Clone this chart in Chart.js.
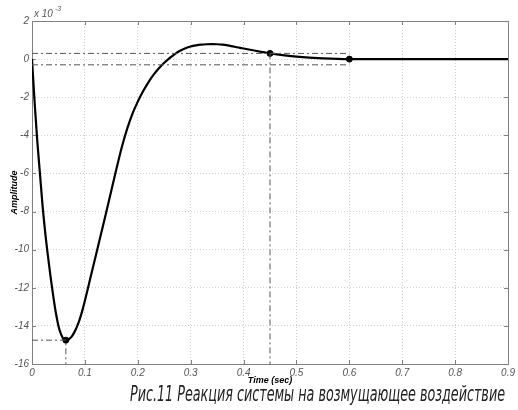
<!DOCTYPE html>
<html>
<head>
<meta charset="utf-8">
<script src="https://cdn.jsdelivr.net/npm/chart.js@4.4.0/dist/chart.umd.min.js"></script>
<style>
  html, body { margin: 0; padding: 0; background: #fff; }
  #wrap { position: relative; width: 518px; height: 410px; }
</style>
</head>
<body>
<div id="wrap"><canvas id="myChart" width="518" height="410"></canvas></div>
<script>
// step response data (amplitude in units of 1e-3)
var times = [0, 0.005, 0.01, 0.015, 0.02, 0.025, 0.03, 0.035, 0.04, 0.045, 0.05, 0.055, 0.06, 0.064,
  0.07, 0.075, 0.08, 0.085, 0.09, 0.095, 0.1, 0.11, 0.12, 0.13, 0.14, 0.15, 0.16, 0.17, 0.18, 0.19,
  0.2, 0.21, 0.22, 0.23, 0.24, 0.25, 0.26, 0.27, 0.28, 0.29, 0.3, 0.31, 0.32, 0.33, 0.34, 0.35, 0.36,
  0.37, 0.38, 0.39, 0.4, 0.42, 0.44, 0.45, 0.47, 0.5, 0.55, 0.6, 0.7, 0.8, 0.9];
var amplitude = [0, -2.3, -4.3, -6.0, -7.7, -9.1, -10.3, -11.4, -12.4, -13.3, -14.0, -14.45, -14.7, -14.75,
  -14.69, -14.56, -14.34, -14.04, -13.67, -13.21, -12.68, -11.53, -10.38, -9.23, -8.08, -6.9, -5.72, -4.6, -3.65, -2.86,
  -2.23, -1.69, -1.22, -0.815, -0.48, -0.195, 0.055, 0.265, 0.435, 0.565, 0.66, 0.72, 0.76, 0.78, 0.79, 0.78, 0.76,
  0.72, 0.665, 0.61, 0.555, 0.45, 0.35, 0.3, 0.22, 0.13, 0.04, 0, 0, 0, 0];

// marked points: peak, settling time, end
var markTimes = [0.064, 0.45, 0.6];
var markValues = [-14.75, 0.3, 0];

// settling band and guide lines
var bandUpper = 0.3;
var bandLower = -0.3;
var bandEnd = 0.6;

var xTicks = [0, 0.1, 0.2, 0.3, 0.4, 0.5, 0.6, 0.7, 0.8, 0.9];
var yTicks = [-16, -14, -12, -10, -8, -6, -4, -2, 0, 2];

var caption = 'Рис.11 Реакция системы на возмущающее воздействие';

function pts(xs, ys) {
  var out = [];
  for (let i = 0; i < xs.length; i++) out.push({x: xs[i], y: ys[i]});
  return out;
}

var dashStyle = {
  borderColor: '#555',
  borderWidth: 1,
  borderDash: [6, 3, 2, 3],
  pointRadius: 0,
  fill: false,
  tension: 0
};

var datasets = [
  Object.assign({data: [{x: 0, y: bandUpper}, {x: bandEnd, y: bandUpper}]}, dashStyle),
  Object.assign({data: [{x: 0, y: bandLower}, {x: bandEnd, y: bandLower}]}, dashStyle),
  Object.assign({data: [{x: 0, y: markValues[0]}, {x: markTimes[0], y: markValues[0]}, {x: markTimes[0], y: -16}]}, dashStyle),
  Object.assign({data: [{x: markTimes[1], y: markValues[1]}, {x: markTimes[1], y: -16}]}, dashStyle),
  {
    data: pts(times, amplitude),
    borderColor: '#000',
    borderWidth: 2.2,
    pointRadius: 0,
    fill: false,
    cubicInterpolationMode: 'monotone'
  },
  {
    data: pts(markTimes, markValues),
    showLine: false,
    pointRadius: 3,
    pointBackgroundColor: '#000',
    pointBorderColor: '#000'
  }
];

// frame, inward ticks, exponent label and caption
var decor = {
  id: 'decor',
  beforeDatasetsDraw: function(chart) {
    var ctx = chart.ctx, a = chart.chartArea;
    var xs = chart.scales.x, ys = chart.scales.y;
    ctx.save();
    ctx.strokeStyle = '#808080';
    ctx.lineWidth = 1;
    ctx.beginPath();
    xTicks.forEach(function(v) {
      var px = Math.round(xs.getPixelForValue(v)) + 0.5;
      ctx.moveTo(px, a.top); ctx.lineTo(px, a.top + 4);
      ctx.moveTo(px, a.bottom); ctx.lineTo(px, a.bottom - 4);
    });
    yTicks.forEach(function(v) {
      var py = Math.round(ys.getPixelForValue(v)) + 0.5;
      ctx.moveTo(a.left, py); ctx.lineTo(a.left + 4, py);
      ctx.moveTo(a.right, py); ctx.lineTo(a.right - 4, py);
    });
    ctx.stroke();
    ctx.strokeRect(Math.round(a.left) + 0.5, Math.round(a.top) + 0.5,
      Math.round(a.right - a.left), Math.round(a.bottom - a.top));
    ctx.restore();
  },
  afterDraw: function(chart) {
    var ctx = chart.ctx;
    ctx.save();
    ctx.fillStyle = '#555';
    ctx.textBaseline = 'alphabetic';
    ctx.font = 'italic 10px "Liberation Sans", Arial, sans-serif';
    ctx.fillText('x 10', 34, 17);
    ctx.font = 'italic 7px "Liberation Sans", Arial, sans-serif';
    ctx.fillText('-3', 55, 11);

    ctx.fillStyle = '#222';
    ctx.font = 'italic 21px "Liberation Sans Narrow", "DejaVu Sans Condensed", sans-serif';
    var w = ctx.measureText(caption).width;
    var target = 375;
    ctx.translate(130, 401);
    ctx.scale(target / w, 1);
    ctx.fillText(caption, 0, 0);
    ctx.restore();
  }
};

var ctx = document.getElementById('myChart').getContext('2d');
var myChart = new Chart(ctx, {
  type: 'line',
  data: { datasets: datasets },
  plugins: [decor],
  options: {
    responsive: false,
    animation: false,
    layout: { padding: { top: 21, right: 9, left: 0, bottom: 0 } },
    plugins: {
      legend: { display: false },
      tooltip: { enabled: false }
    },
    scales: {
      x: {
        type: 'linear',
        min: 0,
        max: 0.9,
        afterFit: function(s) { s.height = 46; },
        afterBuildTicks: function(s) { s.ticks = xTicks.map(function(v) { return {value: v}; }); },
        ticks: {
          padding: 3,
          color: '#555',
          maxRotation: 0,
          font: { family: '"Liberation Sans", Arial, sans-serif', size: 10, style: 'italic' },
          callback: function(v) { return String(v); }
        },
        grid: { color: '#cfcfcf', drawTicks: false, lineWidth: 1 },
        border: { display: false, dash: [1, 2] },
        title: {
          display: true,
          text: 'Time (sec)',
          color: '#000',
          font: { family: '"Liberation Sans", Arial, sans-serif', size: 9, style: 'italic', weight: 'bold' },
          padding: { top: 0, bottom: 24 }
        }
      },
      y: {
        min: -16,
        max: 2,
        afterFit: function(s) { s.width = 32; },
        afterBuildTicks: function(s) { s.ticks = yTicks.map(function(v) { return {value: v}; }); },
        ticks: {
          padding: 3,
          color: '#555',
          font: { family: '"Liberation Sans", Arial, sans-serif', size: 10, style: 'italic' }
        },
        grid: { color: '#cfcfcf', drawTicks: false, lineWidth: 1 },
        border: { display: false, dash: [1, 2] },
        title: {
          display: true,
          text: 'Amplitude',
          color: '#000',
          font: { family: '"Liberation Sans", Arial, sans-serif', size: 9, style: 'italic', weight: 'bold' },
          padding: { top: 9, bottom: 0 }
        }
      }
    }
  }
});
</script>
</body>
</html>
